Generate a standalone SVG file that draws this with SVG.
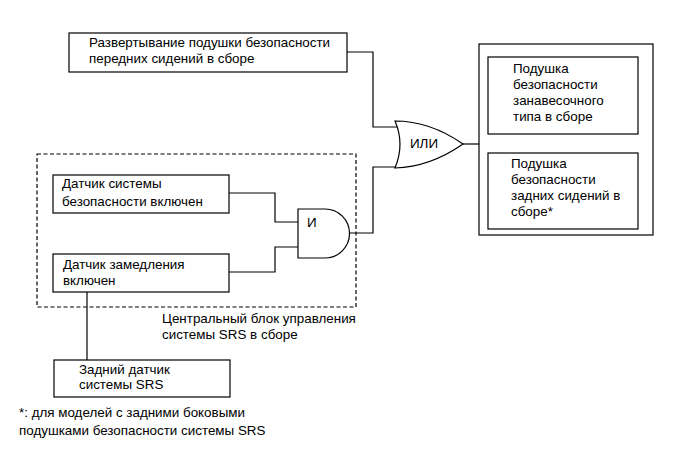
<svg xmlns="http://www.w3.org/2000/svg" width="689" height="464" viewBox="0 0 689 464">
<style>
.b{fill:#fff;stroke:#000;stroke-width:1.2}
.w{fill:none;stroke:#000;stroke-width:1.2}
.d{fill:none;stroke:#000;stroke-width:1.2;stroke-dasharray:4 2.5}
text{font-family:"Liberation Sans",Arial,sans-serif;font-size:13.4px;fill:#000}
</style>
<rect width="689" height="464" fill="#fff"/>
<g id="connectors">
<polyline class="w" points="347,52 373,52 373,127 397,127"/>
<polyline class="w" points="397,167 373,167 373,233 349,233"/>
<line class="w" x1="463" y1="144" x2="479" y2="144"/>
<polyline class="w" points="229,193 275,193 275,222 298,222"/>
<polyline class="w" points="229,272 275,272 275,247 298,247"/>
<line class="w" x1="87" y1="292" x2="87" y2="360"/>
</g>
<g id="ecu">
<rect class="d" x="37" y="154" width="319" height="153"/>
<text x="162" y="323">Центральный блок управления</text>
<text x="162" y="339">системы SRS в сборе</text>
</g>
<g id="front">
<rect class="b" x="69" y="33" width="278" height="39"/>
<text x="89" y="47">Развертывание подушки безопасности</text>
<text x="89" y="63">передних сидений в сборе</text>
</g>
<g id="or">
<path class="b" d="M395,121 Q430,121 463,144 Q430,167 395,168 Q405,144 395,121 Z"/>
<text x="410" y="148">ИЛИ</text>
</g>
<g id="and">
<path class="b" d="M298,209 L325,209 A24.5,24.5 0 0 1 325,258 L298,258 Z"/>
<text x="307" y="227">И</text>
</g>
<g id="seat-sensor">
<rect class="b" x="53" y="175" width="176" height="38"/>
<text x="62" y="188">Датчик системы</text>
<text x="62" y="206">безопасности включен</text>
</g>
<g id="decel-sensor">
<rect class="b" x="53" y="254" width="176" height="38"/>
<text x="63" y="269">Датчик замедления</text>
<text x="63" y="285">включен</text>
</g>
<g id="rear-sensor">
<rect class="b" x="54" y="360" width="176" height="37"/>
<text x="79" y="374">Задний датчик</text>
<text x="79" y="389">системы SRS</text>
</g>
<g id="airbags">
<rect class="b" x="479" y="44" width="174" height="191"/>
</g>
<g id="curtain">
<rect class="b" x="488" y="57" width="150" height="77"/>
<text x="513" y="73">Подушка</text>
<text x="513" y="89">безопасности</text>
<text x="513" y="105">занавесочного</text>
<text x="513" y="121">типа в сборе</text>
</g>
<g id="rear-seat">
<rect class="b" x="488" y="153" width="150" height="76"/>
<text x="511" y="168">Подушка</text>
<text x="511" y="184">безопасности</text>
<text x="511" y="200">задних сидений в</text>
<text x="511" y="216">сборе*</text>
</g>
<g id="note">
<text x="19" y="417">*: для моделей с задними боковыми</text>
<text x="19" y="435">подушками безопасности системы SRS</text>
</g>
</svg>
